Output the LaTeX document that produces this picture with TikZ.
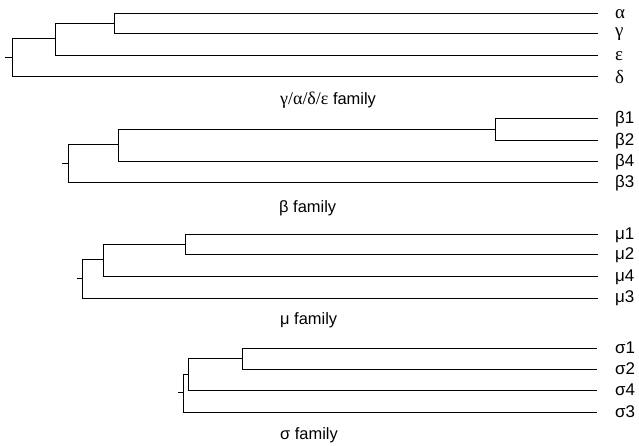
\documentclass[tikz,border=0pt]{standalone}
\usepackage{fontspec}
\setmainfont{Liberation Sans}
\newfontfamily\grk{Liberation Serif}
\begin{document}
\begin{tikzpicture}[x=1bp,y=-1bp,
  br/.style={line width=1bp,black},
  lab/.style={anchor=west,inner sep=0pt,font=\fontsize{17}{19}\selectfont},
  glab/.style={anchor=west,inner sep=0pt,font=\fontsize{19}{20}\grk},
  ttl/.style={anchor=west,inner sep=0pt,font=\fontsize{16.5}{19}\selectfont}]
\useasboundingbox[fill=white] (0,0) rectangle (639,446);
% ---------- tree 1
\node[glab] (alpha) at (615,14) {α};
\node[glab] (gamma) at (615,34) {γ};
\node[glab] (eps) at (615,56) {ε};
\node[glab] (delta) at (615,77) {δ};
\coordinate (ealpha) at (598,14);
\coordinate (egamma) at (598,34);
\coordinate (eeps) at (598,56);
\coordinate (edelta) at (598,77);
\coordinate (t1) at (5,58);
\coordinate (r1) at (12,58);
\coordinate (a1) at (55,39);
\coordinate (b1) at (114,24);
\draw[br] (t1) -- (r1);
\draw[br] (r1) |- (a1);
\draw[br] (r1) |- (edelta);
\draw[br] (a1) |- (b1);
\draw[br] (a1) |- (eeps);
\draw[br] (b1) |- (ealpha);
\draw[br] (b1) |- (egamma);
\node[ttl] (title1) at (280,100) {{\grk\fontsize{18}{19}\selectfont γ/α/δ/ε} family};
% ---------- tree 2
\node[lab] (beta1) at (615,119) {β1};
\node[lab] (beta2) at (615,141) {β2};
\node[lab] (beta4) at (615,162) {β4};
\node[lab] (beta3) at (615,183) {β3};
\coordinate (ebeta1) at (598,119);
\coordinate (ebeta2) at (598,141);
\coordinate (ebeta4) at (598,162);
\coordinate (ebeta3) at (598,183);
\coordinate (t2) at (62,164);
\coordinate (r2) at (68,164);
\coordinate (a2) at (118,145);
\coordinate (b2) at (495,130);
\draw[br] (t2) -- (r2);
\draw[br] (r2) |- (a2);
\draw[br] (r2) |- (ebeta3);
\draw[br] (a2) |- (b2);
\draw[br] (a2) |- (ebeta4);
\draw[br] (b2) |- (ebeta1);
\draw[br] (b2) |- (ebeta2);
\node[ttl] (title2) at (279,208) {β family};
% ---------- tree 3
\node[lab] (mu1) at (615,235) {μ1};
\node[lab] (mu2) at (615,255) {μ2};
\node[lab] (mu4) at (615,277) {μ4};
\node[lab] (mu3) at (615,298) {μ3};
\coordinate (emu1) at (598,235);
\coordinate (emu2) at (598,255);
\coordinate (emu4) at (598,277);
\coordinate (emu3) at (598,298);
\coordinate (t3) at (77,279);
\coordinate (r3) at (82,279);
\coordinate (a3) at (103,260);
\coordinate (b3) at (185,245);
\draw[br] (t3) -- (r3);
\draw[br] (r3) |- (a3);
\draw[br] (r3) |- (emu3);
\draw[br] (a3) |- (b3);
\draw[br] (a3) |- (emu4);
\draw[br] (b3) |- (emu1);
\draw[br] (b3) |- (emu2);
\node[ttl] (title3) at (280,320) {μ family};
% ---------- tree 4
\node[lab] (sig1) at (615,348) {σ1};
\node[lab] (sig2) at (615,369) {σ2};
\node[lab] (sig4) at (615,390) {σ4};
\node[lab] (sig3) at (615,412) {σ3};
\coordinate (esig1) at (597,348);
\coordinate (esig2) at (597,369);
\coordinate (esig4) at (597,390);
\coordinate (esig3) at (597,412);
\coordinate (t4) at (178,392);
\coordinate (r4) at (183,392);
\coordinate (a4) at (188,374);
\coordinate (b4) at (242,358);
\draw[br] (t4) -- (r4);
\draw[br] (r4) |- (a4);
\draw[br] (r4) |- (esig3);
\draw[br] (a4) |- (b4);
\draw[br] (a4) |- (esig4);
\draw[br] (b4) |- (esig1);
\draw[br] (b4) |- (esig2);
\node[ttl] (title4) at (280,435) {σ family};
\end{tikzpicture}
\end{document}
